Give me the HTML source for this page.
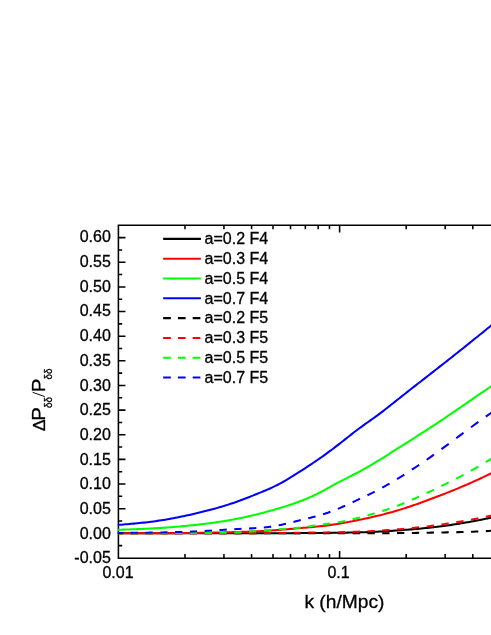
<!DOCTYPE html>
<html><head><meta charset="utf-8"><title>chart</title>
<style>html,body{margin:0;padding:0;background:#fff;}svg{display:block;will-change:transform;}text{font-family:"Liberation Sans",sans-serif;fill:#000;stroke:#000;stroke-width:0.3px;}</style></head><body>
<svg width="491" height="635" viewBox="0 0 491 635">
<rect x="0" y="0" width="491" height="635" fill="#fff"/>
<defs><clipPath id="pc"><rect x="117.80" y="225.15" width="378.60" height="333.05"/></clipPath></defs>
<g stroke="#000" stroke-width="1.55" fill="none" stroke-linecap="butt">
<path d="M493.00,225.15 H118.40 M118.40,224.38 V558.98 M118.40,558.20 H493.00"/>
<path d="M118.40,545.62 h3.80 M118.40,533.30 h7.05 M118.40,520.98 h3.80 M118.40,508.66 h7.05 M118.40,496.34 h3.80 M118.40,484.02 h7.05 M118.40,471.70 h3.80 M118.40,459.38 h7.05 M118.40,447.06 h3.80 M118.40,434.74 h7.05 M118.40,422.42 h3.80 M118.40,410.10 h7.05 M118.40,397.78 h3.80 M118.40,385.46 h7.05 M118.40,373.14 h3.80 M118.40,360.82 h7.05 M118.40,348.50 h3.80 M118.40,336.18 h7.05 M118.40,323.86 h3.80 M118.40,311.54 h7.05 M118.40,299.22 h3.80 M118.40,286.90 h7.05 M118.40,274.58 h3.80 M118.40,262.26 h7.05 M118.40,249.94 h3.80 M118.40,237.62 h7.05 M184.99,558.20 v-4.20 M184.99,225.15 v4.20 M223.94,558.20 v-4.20 M223.94,225.15 v4.20 M251.58,558.20 v-4.20 M251.58,225.15 v4.20 M273.01,558.20 v-4.20 M273.01,225.15 v4.20 M290.53,558.20 v-4.20 M290.53,225.15 v4.20 M305.34,558.20 v-4.20 M305.34,225.15 v4.20 M318.16,558.20 v-4.20 M318.16,225.15 v4.20 M329.48,558.20 v-4.20 M329.48,225.15 v4.20 M339.60,558.20 v-7.30 M339.60,225.15 v7.30 M406.19,558.20 v-4.20 M406.19,225.15 v4.20 M445.14,558.20 v-4.20 M445.14,225.15 v4.20 M472.78,558.20 v-4.20 M472.78,225.15 v4.20 "/>
</g>
<g fill="none" stroke-width="2.05" clip-path="url(#pc)" stroke-linejoin="round">
<path d="M117.40,533.30 L119.40,533.30 L121.40,533.30 L123.40,533.30 L125.40,533.30 L127.40,533.30 L129.40,533.30 L131.40,533.30 L133.40,533.30 L135.40,533.30 L137.40,533.30 L139.40,533.30 L141.40,533.30 L143.40,533.30 L145.40,533.30 L147.40,533.30 L149.40,533.30 L151.40,533.30 L153.40,533.30 L155.40,533.30 L157.40,533.30 L159.40,533.30 L161.40,533.30 L163.40,533.30 L165.40,533.30 L167.40,533.30 L169.40,533.30 L171.40,533.30 L173.40,533.30 L175.40,533.30 L177.40,533.30 L179.40,533.30 L181.40,533.30 L183.40,533.30 L185.40,533.30 L187.40,533.30 L189.40,533.30 L191.40,533.30 L193.40,533.30 L195.40,533.30 L197.40,533.30 L199.40,533.30 L201.40,533.30 L203.40,533.30 L205.40,533.30 L207.40,533.30 L209.40,533.30 L211.40,533.30 L213.40,533.31 L215.40,533.31 L217.40,533.31 L219.40,533.31 L221.40,533.31 L223.40,533.31 L225.40,533.31 L227.40,533.31 L229.40,533.31 L231.40,533.31 L233.40,533.30 L235.40,533.30 L237.40,533.30 L239.40,533.30 L241.40,533.30 L243.40,533.29 L245.40,533.29 L247.40,533.29 L249.40,533.28 L251.40,533.28 L253.40,533.27 L255.40,533.27 L257.40,533.26 L259.40,533.26 L261.40,533.25 L263.40,533.25 L265.40,533.24 L267.40,533.23 L269.40,533.23 L271.40,533.22 L273.40,533.22 L275.40,533.21 L277.40,533.20 L279.40,533.20 L281.40,533.19 L283.40,533.18 L285.40,533.17 L287.40,533.17 L289.40,533.16 L291.40,533.15 L293.40,533.14 L295.40,533.13 L297.40,533.12 L299.40,533.11 L301.40,533.10 L303.40,533.09 L305.40,533.08 L307.40,533.07 L309.40,533.06 L311.40,533.05 L313.40,533.03 L315.40,533.02 L317.40,533.00 L319.40,532.99 L321.40,532.97 L323.40,532.96 L325.40,532.94 L327.40,532.92 L329.40,532.90 L331.40,532.88 L333.40,532.85 L335.40,532.83 L337.40,532.80 L339.40,532.77 L341.40,532.74 L343.40,532.71 L345.40,532.67 L347.40,532.64 L349.40,532.60 L351.40,532.56 L353.40,532.51 L355.40,532.46 L357.40,532.42 L359.40,532.36 L361.40,532.31 L363.40,532.25 L365.40,532.18 L367.40,532.12 L369.40,532.05 L371.40,531.97 L373.40,531.88 L375.40,531.80 L377.40,531.70 L379.40,531.60 L381.40,531.49 L383.40,531.37 L385.40,531.25 L387.40,531.13 L389.40,531.00 L391.40,530.86 L393.40,530.73 L395.40,530.59 L397.40,530.44 L399.40,530.30 L401.40,530.15 L403.40,530.00 L405.40,529.85 L407.40,529.69 L409.40,529.53 L411.40,529.37 L413.40,529.20 L415.40,529.03 L417.40,528.86 L419.40,528.68 L421.40,528.49 L423.40,528.30 L425.40,528.10 L427.40,527.90 L429.40,527.69 L431.40,527.47 L433.40,527.25 L435.40,527.01 L437.40,526.77 L439.40,526.53 L441.40,526.27 L443.40,526.00 L445.40,525.73 L447.40,525.45 L449.40,525.17 L451.40,524.87 L453.40,524.57 L455.40,524.26 L457.40,523.94 L459.40,523.62 L461.40,523.29 L463.40,522.95 L465.40,522.61 L467.40,522.26 L469.40,521.90 L471.40,521.54 L473.40,521.17 L475.40,520.79 L477.40,520.42 L479.40,520.03 L481.40,519.64 L483.40,519.24 L485.40,518.85 L487.40,518.44 L489.40,518.04 L491.40,517.63 L493.40,517.23 L495.40,516.82" stroke="#000"/>
<path d="M117.40,533.30 L119.40,533.30 L121.40,533.29 L123.40,533.29 L125.40,533.29 L127.40,533.28 L129.40,533.28 L131.40,533.27 L133.40,533.27 L135.40,533.26 L137.40,533.26 L139.40,533.26 L141.40,533.25 L143.40,533.25 L145.40,533.24 L147.40,533.23 L149.40,533.23 L151.40,533.22 L153.40,533.22 L155.40,533.21 L157.40,533.20 L159.40,533.19 L161.40,533.19 L163.40,533.18 L165.40,533.17 L167.40,533.16 L169.40,533.15 L171.40,533.14 L173.40,533.13 L175.40,533.12 L177.40,533.10 L179.40,533.09 L181.40,533.07 L183.40,533.06 L185.40,533.04 L187.40,533.02 L189.40,533.00 L191.40,532.98 L193.40,532.96 L195.40,532.93 L197.40,532.91 L199.40,532.88 L201.40,532.85 L203.40,532.82 L205.40,532.79 L207.40,532.75 L209.40,532.72 L211.40,532.68 L213.40,532.64 L215.40,532.60 L217.40,532.56 L219.40,532.51 L221.40,532.46 L223.40,532.41 L225.40,532.36 L227.40,532.31 L229.40,532.26 L231.40,532.20 L233.40,532.14 L235.40,532.08 L237.40,532.02 L239.40,531.95 L241.40,531.89 L243.40,531.82 L245.40,531.75 L247.40,531.67 L249.40,531.60 L251.40,531.51 L253.40,531.43 L255.40,531.34 L257.40,531.25 L259.40,531.15 L261.40,531.05 L263.40,530.94 L265.40,530.83 L267.40,530.72 L269.40,530.60 L271.40,530.47 L273.40,530.33 L275.40,530.19 L277.40,530.05 L279.40,529.89 L281.40,529.73 L283.40,529.57 L285.40,529.40 L287.40,529.22 L289.40,529.05 L291.40,528.87 L293.40,528.69 L295.40,528.52 L297.40,528.34 L299.40,528.17 L301.40,528.00 L303.40,527.83 L305.40,527.66 L307.40,527.49 L309.40,527.32 L311.40,527.14 L313.40,526.95 L315.40,526.76 L317.40,526.56 L319.40,526.35 L321.40,526.13 L323.40,525.90 L325.40,525.66 L327.40,525.41 L329.40,525.14 L331.40,524.86 L333.40,524.57 L335.40,524.27 L337.40,523.96 L339.40,523.63 L341.40,523.29 L343.40,522.93 L345.40,522.57 L347.40,522.20 L349.40,521.81 L351.40,521.42 L353.40,521.03 L355.40,520.63 L357.40,520.22 L359.40,519.81 L361.40,519.40 L363.40,518.99 L365.40,518.57 L367.40,518.14 L369.40,517.70 L371.40,517.26 L373.40,516.81 L375.40,516.35 L377.40,515.87 L379.40,515.39 L381.40,514.89 L383.40,514.38 L385.40,513.86 L387.40,513.33 L389.40,512.78 L391.40,512.23 L393.40,511.66 L395.40,511.07 L397.40,510.48 L399.40,509.87 L401.40,509.26 L403.40,508.63 L405.40,507.98 L407.40,507.33 L409.40,506.67 L411.40,506.00 L413.40,505.32 L415.40,504.63 L417.40,503.93 L419.40,503.22 L421.40,502.50 L423.40,501.78 L425.40,501.05 L427.40,500.31 L429.40,499.56 L431.40,498.81 L433.40,498.06 L435.40,497.30 L437.40,496.53 L439.40,495.76 L441.40,494.98 L443.40,494.20 L445.40,493.42 L447.40,492.63 L449.40,491.83 L451.40,491.03 L453.40,490.22 L455.40,489.40 L457.40,488.58 L459.40,487.75 L461.40,486.91 L463.40,486.06 L465.40,485.21 L467.40,484.34 L469.40,483.47 L471.40,482.59 L473.40,481.69 L475.40,480.79 L477.40,479.88 L479.40,478.95 L481.40,478.02 L483.40,477.07 L485.40,476.12 L487.40,475.17 L489.40,474.21 L491.40,473.24 L493.40,472.27 L495.40,471.31" stroke="#ff0000"/>
<path d="M117.40,529.84 L119.40,529.78 L121.40,529.71 L123.40,529.64 L125.40,529.57 L127.40,529.50 L129.40,529.43 L131.40,529.35 L133.40,529.28 L135.40,529.20 L137.40,529.12 L139.40,529.04 L141.40,528.95 L143.40,528.87 L145.40,528.77 L147.40,528.68 L149.40,528.58 L151.40,528.48 L153.40,528.37 L155.40,528.25 L157.40,528.14 L159.40,528.01 L161.40,527.88 L163.40,527.75 L165.40,527.61 L167.40,527.46 L169.40,527.31 L171.40,527.16 L173.40,527.00 L175.40,526.83 L177.40,526.66 L179.40,526.48 L181.40,526.30 L183.40,526.11 L185.40,525.92 L187.40,525.73 L189.40,525.52 L191.40,525.32 L193.40,525.11 L195.40,524.89 L197.40,524.67 L199.40,524.44 L201.40,524.21 L203.40,523.97 L205.40,523.73 L207.40,523.48 L209.40,523.23 L211.40,522.96 L213.40,522.69 L215.40,522.42 L217.40,522.13 L219.40,521.83 L221.40,521.53 L223.40,521.22 L225.40,520.89 L227.40,520.56 L229.40,520.21 L231.40,519.86 L233.40,519.49 L235.40,519.11 L237.40,518.72 L239.40,518.32 L241.40,517.90 L243.40,517.47 L245.40,517.03 L247.40,516.58 L249.40,516.12 L251.40,515.65 L253.40,515.17 L255.40,514.68 L257.40,514.18 L259.40,513.68 L261.40,513.16 L263.40,512.64 L265.40,512.12 L267.40,511.58 L269.40,511.04 L271.40,510.48 L273.40,509.92 L275.40,509.35 L277.40,508.78 L279.40,508.19 L281.40,507.59 L283.40,506.98 L285.40,506.36 L287.40,505.73 L289.40,505.08 L291.40,504.41 L293.40,503.73 L295.40,503.04 L297.40,502.32 L299.40,501.58 L301.40,500.82 L303.40,500.04 L305.40,499.24 L307.40,498.40 L309.40,497.54 L311.40,496.66 L313.40,495.74 L315.40,494.79 L317.40,493.80 L319.40,492.78 L321.40,491.73 L323.40,490.66 L325.40,489.56 L327.40,488.46 L329.40,487.34 L331.40,486.22 L333.40,485.11 L335.40,484.01 L337.40,482.93 L339.40,481.87 L341.40,480.83 L343.40,479.81 L345.40,478.80 L347.40,477.80 L349.40,476.79 L351.40,475.79 L353.40,474.78 L355.40,473.76 L357.40,472.72 L359.40,471.65 L361.40,470.57 L363.40,469.47 L365.40,468.34 L367.40,467.20 L369.40,466.04 L371.40,464.86 L373.40,463.67 L375.40,462.46 L377.40,461.25 L379.40,460.02 L381.40,458.78 L383.40,457.54 L385.40,456.28 L387.40,455.03 L389.40,453.76 L391.40,452.49 L393.40,451.22 L395.40,449.95 L397.40,448.68 L399.40,447.41 L401.40,446.14 L403.40,444.87 L405.40,443.60 L407.40,442.33 L409.40,441.07 L411.40,439.79 L413.40,438.52 L415.40,437.25 L417.40,435.97 L419.40,434.69 L421.40,433.41 L423.40,432.13 L425.40,430.84 L427.40,429.54 L429.40,428.25 L431.40,426.94 L433.40,425.63 L435.40,424.32 L437.40,423.00 L439.40,421.67 L441.40,420.33 L443.40,418.99 L445.40,417.65 L447.40,416.30 L449.40,414.94 L451.40,413.58 L453.40,412.21 L455.40,410.84 L457.40,409.47 L459.40,408.10 L461.40,406.73 L463.40,405.35 L465.40,403.97 L467.40,402.59 L469.40,401.21 L471.40,399.84 L473.40,398.46 L475.40,397.09 L477.40,395.71 L479.40,394.34 L481.40,392.97 L483.40,391.60 L485.40,390.24 L487.40,388.88 L489.40,387.51 L491.40,386.15 L493.40,384.79 L495.40,383.43" stroke="#00ff00"/>
<path d="M117.40,525.01 L119.40,524.84 L121.40,524.67 L123.40,524.50 L125.40,524.33 L127.40,524.16 L129.40,523.99 L131.40,523.81 L133.40,523.63 L135.40,523.44 L137.40,523.25 L139.40,523.05 L141.40,522.84 L143.40,522.63 L145.40,522.41 L147.40,522.18 L149.40,521.94 L151.40,521.70 L153.40,521.44 L155.40,521.17 L157.40,520.89 L159.40,520.59 L161.40,520.29 L163.40,519.97 L165.40,519.64 L167.40,519.30 L169.40,518.95 L171.40,518.59 L173.40,518.21 L175.40,517.83 L177.40,517.44 L179.40,517.03 L181.40,516.62 L183.40,516.20 L185.40,515.77 L187.40,515.34 L189.40,514.89 L191.40,514.44 L193.40,513.98 L195.40,513.52 L197.40,513.04 L199.40,512.56 L201.40,512.08 L203.40,511.59 L205.40,511.09 L207.40,510.58 L209.40,510.06 L211.40,509.53 L213.40,508.99 L215.40,508.44 L217.40,507.88 L219.40,507.31 L221.40,506.73 L223.40,506.13 L225.40,505.52 L227.40,504.89 L229.40,504.25 L231.40,503.59 L233.40,502.92 L235.40,502.22 L237.40,501.52 L239.40,500.79 L241.40,500.05 L243.40,499.29 L245.40,498.52 L247.40,497.73 L249.40,496.94 L251.40,496.14 L253.40,495.33 L255.40,494.52 L257.40,493.71 L259.40,492.90 L261.40,492.09 L263.40,491.27 L265.40,490.44 L267.40,489.59 L269.40,488.72 L271.40,487.83 L273.40,486.91 L275.40,485.95 L277.40,484.96 L279.40,483.92 L281.40,482.84 L283.40,481.73 L285.40,480.58 L287.40,479.40 L289.40,478.19 L291.40,476.97 L293.40,475.72 L295.40,474.46 L297.40,473.19 L299.40,471.92 L301.40,470.63 L303.40,469.34 L305.40,468.04 L307.40,466.73 L309.40,465.42 L311.40,464.09 L313.40,462.74 L315.40,461.39 L317.40,460.01 L319.40,458.63 L321.40,457.22 L323.40,455.80 L325.40,454.37 L327.40,452.92 L329.40,451.45 L331.40,449.96 L333.40,448.46 L335.40,446.93 L337.40,445.40 L339.40,443.84 L341.40,442.27 L343.40,440.69 L345.40,439.10 L347.40,437.52 L349.40,435.94 L351.40,434.36 L353.40,432.81 L355.40,431.27 L357.40,429.75 L359.40,428.26 L361.40,426.80 L363.40,425.35 L365.40,423.93 L367.40,422.51 L369.40,421.09 L371.40,419.67 L373.40,418.24 L375.40,416.80 L377.40,415.34 L379.40,413.86 L381.40,412.35 L383.40,410.82 L385.40,409.27 L387.40,407.71 L389.40,406.13 L391.40,404.55 L393.40,402.96 L395.40,401.37 L397.40,399.78 L399.40,398.19 L401.40,396.61 L403.40,395.03 L405.40,393.45 L407.40,391.88 L409.40,390.31 L411.40,388.74 L413.40,387.18 L415.40,385.62 L417.40,384.06 L419.40,382.50 L421.40,380.94 L423.40,379.39 L425.40,377.83 L427.40,376.27 L429.40,374.71 L431.40,373.15 L433.40,371.59 L435.40,370.03 L437.40,368.47 L439.40,366.90 L441.40,365.34 L443.40,363.77 L445.40,362.19 L447.40,360.62 L449.40,359.04 L451.40,357.46 L453.40,355.88 L455.40,354.29 L457.40,352.70 L459.40,351.11 L461.40,349.52 L463.40,347.93 L465.40,346.33 L467.40,344.73 L469.40,343.12 L471.40,341.52 L473.40,339.91 L475.40,338.30 L477.40,336.68 L479.40,335.07 L481.40,333.45 L483.40,331.83 L485.40,330.21 L487.40,328.58 L489.40,326.96 L491.40,325.33 L493.40,323.70 L495.40,322.07" stroke="#0000ff"/>
<path d="M117.40,533.30 L119.32,533.30 L121.23,533.30 L123.15,533.30 M130.65,533.30 L133.08,533.30 L135.52,533.30 L137.95,533.30 M145.45,533.30 L147.88,533.30 L150.32,533.30 L152.75,533.30 M160.25,533.30 L162.68,533.30 L165.12,533.30 L167.55,533.30 M175.05,533.30 L177.48,533.30 L179.92,533.30 L182.35,533.30 M189.85,533.30 L192.28,533.30 L194.72,533.30 L197.15,533.30 M204.65,533.30 L207.08,533.30 L209.52,533.30 L211.95,533.30 M219.45,533.30 L221.88,533.30 L224.32,533.30 L226.75,533.30 M234.25,533.30 L236.68,533.30 L239.12,533.30 L241.55,533.30 M249.05,533.30 L251.48,533.29 L253.92,533.29 L256.35,533.29 M263.85,533.29 L266.28,533.29 L268.72,533.29 L271.15,533.29 M278.65,533.30 L281.08,533.30 L283.52,533.31 L285.95,533.31 M293.45,533.32 L295.88,533.33 L298.32,533.33 L300.75,533.33 M308.25,533.33 L310.68,533.32 L313.12,533.32 L315.55,533.31 M323.05,533.27 L325.48,533.26 L327.92,533.24 L330.35,533.23 M337.85,533.17 L340.28,533.16 L342.72,533.14 L345.15,533.13 M352.65,533.10 L355.08,533.10 L357.52,533.10 L359.95,533.10 M367.45,533.13 L369.88,533.14 L372.32,533.15 L374.75,533.16 M382.25,533.17 L384.68,533.17 L387.12,533.16 L389.55,533.16 M397.05,533.11 L399.48,533.09 L401.92,533.06 L404.35,533.03 M411.85,532.93 L414.28,532.90 L416.72,532.86 L419.15,532.82 M426.65,532.69 L429.08,532.65 L431.52,532.61 L433.95,532.57 M441.45,532.44 L443.88,532.40 L446.32,532.36 L448.75,532.32 M456.25,532.18 L458.68,532.12 L461.12,532.07 L463.55,532.00 M471.05,531.77 L473.48,531.69 L475.92,531.59 L478.35,531.48 M485.85,531.11 L488.28,530.98 L490.72,530.84 L493.15,530.71" stroke="#000"/>
<path d="M117.40,533.30 L119.32,533.30 L121.23,533.30 L123.15,533.30 M130.65,533.30 L133.08,533.30 L135.52,533.30 L137.95,533.30 M145.45,533.30 L147.88,533.30 L150.32,533.30 L152.75,533.30 M160.25,533.30 L162.68,533.30 L165.12,533.30 L167.55,533.30 M175.05,533.31 L177.48,533.31 L179.92,533.31 L182.35,533.31 M189.85,533.31 L192.28,533.31 L194.72,533.30 L197.15,533.30 M204.65,533.29 L207.08,533.29 L209.52,533.28 L211.95,533.27 M219.45,533.26 L221.88,533.25 L224.32,533.24 L226.75,533.23 M234.25,533.21 L236.68,533.20 L239.12,533.20 L241.55,533.19 M249.05,533.17 L251.48,533.16 L253.92,533.15 L256.35,533.14 M263.85,533.10 L266.28,533.09 L268.72,533.07 L271.15,533.06 M278.65,532.99 L281.08,532.97 L283.52,532.94 L285.95,532.92 M293.45,532.83 L295.88,532.80 L298.32,532.76 L300.75,532.73 M308.25,532.63 L310.68,532.60 L313.12,532.56 L315.55,532.53 M323.05,532.44 L325.48,532.41 L327.92,532.37 L330.35,532.34 M337.85,532.23 L340.28,532.18 L342.72,532.13 L345.15,532.08 M352.65,531.88 L355.08,531.80 L357.52,531.72 L359.95,531.62 M367.45,531.29 L369.88,531.17 L372.32,531.04 L374.75,530.90 M382.25,530.45 L384.68,530.29 L387.12,530.12 L389.55,529.95 M397.05,529.38 L399.48,529.18 L401.92,528.97 L404.35,528.76 M411.85,528.05 L414.28,527.81 L416.72,527.56 L419.15,527.30 M426.65,526.44 L429.08,526.15 L431.52,525.85 L433.95,525.54 M441.45,524.52 L443.88,524.18 L446.32,523.82 L448.75,523.46 M456.25,522.27 L458.68,521.87 L461.12,521.45 L463.55,521.03 M471.05,519.66 L473.48,519.19 L475.92,518.72 L478.35,518.23 M485.85,516.67 L488.28,516.15 L490.72,515.63 L493.15,515.10" stroke="#ff0000"/>
<path d="M117.40,533.30 L119.32,533.30 L121.23,533.30 L123.15,533.29 M130.65,533.28 L133.08,533.27 L135.52,533.27 L137.95,533.26 M145.45,533.24 L147.88,533.24 L150.32,533.23 L152.75,533.22 M160.25,533.19 L162.68,533.18 L165.12,533.17 L167.55,533.15 M175.05,533.11 L177.48,533.10 L179.92,533.09 L182.35,533.07 M189.85,533.04 L192.28,533.02 L194.72,533.01 L197.15,533.00 M204.65,532.97 L207.08,532.96 L209.52,532.95 L211.95,532.93 M219.45,532.85 L221.88,532.81 L224.32,532.76 L226.75,532.70 M234.25,532.46 L236.68,532.36 L239.12,532.25 L241.55,532.12 M249.05,531.65 L251.48,531.47 L253.92,531.30 L256.35,531.11 M263.85,530.51 L266.28,530.31 L268.72,530.11 L271.15,529.92 M278.65,529.35 L281.08,529.19 L283.52,529.02 L285.95,528.86 M293.45,528.28 L295.88,528.05 L298.32,527.80 L300.75,527.51 M308.25,526.50 L310.68,526.15 L313.12,525.79 L315.55,525.44 M323.05,524.43 L325.48,524.12 L327.92,523.80 L330.35,523.47 M337.85,522.33 L340.28,521.89 L342.72,521.42 L345.15,520.92 M352.65,519.22 L355.08,518.63 L357.52,518.02 L359.95,517.41 M367.45,515.44 L369.88,514.77 L372.32,514.08 L374.75,513.37 M382.25,511.07 L384.68,510.27 L387.12,509.45 L389.55,508.61 M397.05,505.86 L399.48,504.92 L401.92,503.96 L404.35,502.98 M411.85,499.81 L414.28,498.75 L416.72,497.67 L419.15,496.57 M426.65,493.11 L429.08,491.97 L431.52,490.81 L433.95,489.65 M441.45,486.03 L443.88,484.84 L446.32,483.64 L448.75,482.43 M456.25,478.65 L458.68,477.39 L461.12,476.12 L463.55,474.83 M471.05,470.76 L473.48,469.39 L475.92,468.01 L478.35,466.60 M485.85,462.12 L488.28,460.64 L490.72,459.14 L493.15,457.64" stroke="#00ff00"/>
<path d="M117.40,533.01 L119.32,532.99 L121.23,532.97 L123.15,532.95 M130.65,532.87 L133.08,532.84 L135.52,532.82 L137.95,532.79 M145.45,532.69 L147.88,532.66 L150.32,532.62 L152.75,532.59 M160.25,532.46 L162.68,532.42 L165.12,532.37 L167.55,532.32 M175.05,532.14 L177.48,532.07 L179.92,532.00 L182.35,531.93 M189.85,531.66 L192.28,531.56 L194.72,531.45 L197.15,531.34 M204.65,530.95 L207.08,530.81 L209.52,530.67 L211.95,530.52 M219.45,530.06 L221.88,529.91 L224.32,529.76 L226.75,529.62 M234.25,529.19 L236.68,529.07 L239.12,528.95 L241.55,528.83 M249.05,528.48 L251.48,528.36 L253.92,528.22 L256.35,528.07 M263.85,527.47 L266.28,527.22 L268.72,526.94 L271.15,526.62 M278.65,525.37 L281.08,524.88 L283.52,524.34 L285.95,523.77 M293.45,521.91 L295.88,521.29 L298.32,520.69 L300.75,520.10 M308.25,518.32 L310.68,517.72 L313.12,517.11 L315.55,516.47 M323.05,514.29 L325.48,513.50 L327.92,512.67 L330.35,511.80 M337.85,508.88 L340.28,507.86 L342.72,506.80 L345.15,505.71 M352.65,502.23 L355.08,501.08 L357.52,499.93 L359.95,498.78 M367.45,495.23 L369.88,494.06 L372.32,492.87 L374.75,491.65 M382.25,487.70 L384.68,486.35 L387.12,484.97 L389.55,483.57 M397.05,479.08 L399.48,477.59 L401.92,476.07 L404.35,474.54 M411.85,469.72 L414.28,468.12 L416.72,466.50 L419.15,464.87 M426.65,459.74 L429.08,458.05 L431.52,456.33 L433.95,454.61 M441.45,449.19 L443.88,447.41 L446.32,445.61 L448.75,443.81 M456.25,438.22 L458.68,436.41 L461.12,434.59 L463.55,432.78 M471.05,427.24 L473.48,425.46 L475.92,423.70 L478.35,421.95 M485.85,416.65 L488.28,414.96 L490.72,413.27 L493.15,411.58" stroke="#0000ff"/>
</g>
<g font-size="16" text-anchor="end">
<text x="110.8" y="563.28">-0.05</text>
<text x="110.8" y="538.60">0.00</text>
<text x="110.8" y="513.92">0.05</text>
<text x="110.8" y="489.24">0.10</text>
<text x="110.8" y="464.56">0.15</text>
<text x="110.8" y="439.88">0.20</text>
<text x="110.8" y="415.20">0.25</text>
<text x="110.8" y="390.52">0.30</text>
<text x="110.8" y="365.84">0.35</text>
<text x="110.8" y="341.16">0.40</text>
<text x="110.8" y="316.48">0.45</text>
<text x="110.8" y="291.80">0.50</text>
<text x="110.8" y="267.12">0.55</text>
<text x="110.8" y="242.44">0.60</text>
</g>
<g font-size="16" text-anchor="middle">
<text x="118.0" y="577.6">0.01</text>
<text x="338.6" y="577.6">0.1</text>
</g>
<text x="344.4" y="607.9" font-size="19.2" text-anchor="middle">k (h/Mpc)</text>
<path d="M44.7,396.55 L32.6,392.35" stroke="#000" stroke-width="0.95" fill="none"/>
<text transform="translate(45.00,431.10) rotate(-90) scale(1.060,1.000)" font-size="16.3">Δ</text>
<text transform="translate(44.70,420.64) rotate(-90) scale(1.070,1.000)" font-size="19.0">P</text>
<text transform="translate(51.60,408.10) rotate(-90) scale(0.924,1.000)" font-size="10.8" stroke="none">δδ</text>
<text transform="translate(44.70,392.15) rotate(-90) scale(1.070,1.000)" font-size="19.0">P</text>
<text transform="translate(51.60,379.58) rotate(-90) scale(0.924,1.000)" font-size="10.8" stroke="none">δδ</text>
<g font-size="16">
<path d="M163.15,238.85 H200.9" stroke="#000" stroke-width="2.05" fill="none"/>
<text x="204.6" y="244.15">a=0.2 F4</text>
<path d="M163.15,258.67 H200.9" stroke="#ff0000" stroke-width="2.05" fill="none"/>
<text x="204.6" y="263.97">a=0.3 F4</text>
<path d="M163.15,278.49 H200.9" stroke="#00ff00" stroke-width="2.05" fill="none"/>
<text x="204.6" y="283.79">a=0.5 F4</text>
<path d="M163.15,298.31 H200.9" stroke="#0000ff" stroke-width="2.05" fill="none"/>
<text x="204.6" y="303.61">a=0.7 F4</text>
<path d="M163.15,318.13 H200.9" stroke="#000" stroke-width="2.05" fill="none" stroke-dasharray="7.7 7.07"/>
<text x="204.6" y="323.43">a=0.2 F5</text>
<path d="M163.15,337.95 H200.9" stroke="#ff0000" stroke-width="2.05" fill="none" stroke-dasharray="7.7 7.07"/>
<text x="204.6" y="343.25">a=0.3 F5</text>
<path d="M163.15,357.77 H200.9" stroke="#00ff00" stroke-width="2.05" fill="none" stroke-dasharray="7.7 7.07"/>
<text x="204.6" y="363.07">a=0.5 F5</text>
<path d="M163.15,377.59 H200.9" stroke="#0000ff" stroke-width="2.05" fill="none" stroke-dasharray="7.7 7.07"/>
<text x="204.6" y="382.89">a=0.7 F5</text>
</g>
</svg></body></html>
